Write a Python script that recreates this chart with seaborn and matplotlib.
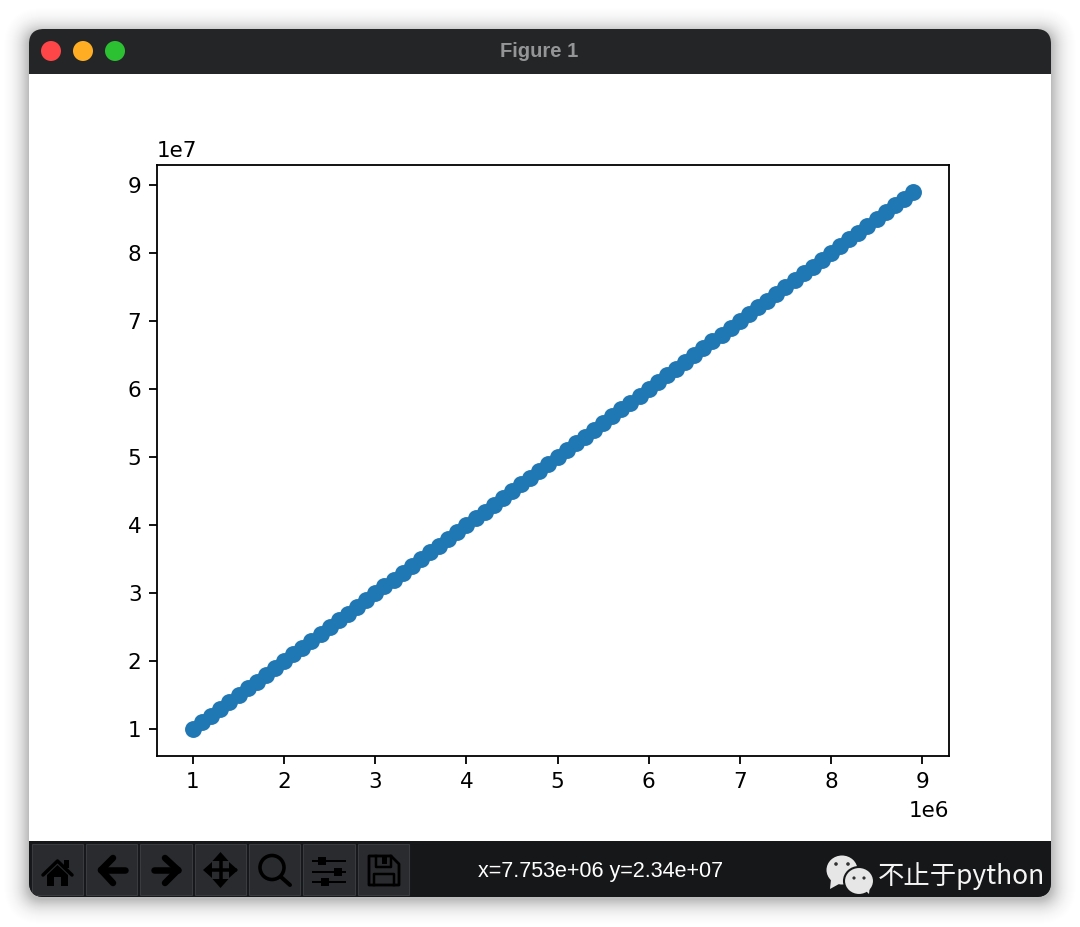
import seaborn as sns
import matplotlib
matplotlib.use('Agg')
import matplotlib.pyplot as plt
from matplotlib.patches import Circle, Ellipse, FancyBboxPatch, Polygon, Rectangle

x_values = [1000000, 1100000, 1200000, 1300000, 1400000, 1500000, 1600000, 1700000,
            1800000, 1900000, 2000000, 2100000, 2200000, 2300000, 2400000, 2500000,
            2600000, 2700000, 2800000, 2900000, 3000000, 3100000, 3200000, 3300000,
            3400000, 3500000, 3600000, 3700000, 3800000, 3900000, 4000000, 4100000,
            4200000, 4300000, 4400000, 4500000, 4600000, 4700000, 4800000, 4900000,
            5000000, 5100000, 5200000, 5300000, 5400000, 5500000, 5600000, 5700000,
            5800000, 5900000, 6000000, 6100000, 6200000, 6300000, 6400000, 6500000,
            6600000, 6700000, 6800000, 6900000, 7000000, 7100000, 7200000, 7300000,
            7400000, 7500000, 7600000, 7700000, 7800000, 7900000, 8000000, 8100000,
            8200000, 8300000, 8400000, 8500000, 8600000, 8700000, 8800000, 8900000]
y_values = [10000000, 11000000, 12000000, 13000000, 14000000, 15000000, 16000000, 17000000,
            18000000, 19000000, 20000000, 21000000, 22000000, 23000000, 24000000, 25000000,
            26000000, 27000000, 28000000, 29000000, 30000000, 31000000, 32000000, 33000000,
            34000000, 35000000, 36000000, 37000000, 38000000, 39000000, 40000000, 41000000,
            42000000, 43000000, 44000000, 45000000, 46000000, 47000000, 48000000, 49000000,
            50000000, 51000000, 52000000, 53000000, 54000000, 55000000, 56000000, 57000000,
            58000000, 59000000, 60000000, 61000000, 62000000, 63000000, 64000000, 65000000,
            66000000, 67000000, 68000000, 69000000, 70000000, 71000000, 72000000, 73000000,
            74000000, 75000000, 76000000, 77000000, 78000000, 79000000, 80000000, 81000000,
            82000000, 83000000, 84000000, 85000000, 86000000, 87000000, 88000000, 89000000]

window_title = 'Figure 1'
status_text = 'x=7.753e+06 y=2.34e+07'
watermark = '不止于python'

TITLE_BAR = '#242527'
TOOL_BAR = '#161719'
PX = 0.72  # one pixel in points at dpi 100

fig = plt.figure(figsize=(10.8, 9.27), dpi=100, facecolor='white')

# window chrome, in pixel coordinates
bg = fig.add_axes([0, 0, 1, 1], zorder=0)
bg.set_xlim(0, 1080)
bg.set_ylim(927, 0)
bg.axis('off')

# soft drop shadow, a little lower than the window
layers = 30
for i in range(layers):
    grow = layers - i
    t = i / layers
    bg.add_patch(FancyBboxPatch((29 - grow, 33 - grow), 1022 + 2 * grow, 866 + 2 * grow,
                                boxstyle='round,pad=0,rounding_size=%d' % (14 + grow),
                                fc='black', ec='none', alpha=0.0015 + 0.024 * t * t))

window = FancyBboxPatch((29, 29), 1022, 868, boxstyle='round,pad=0,rounding_size=15',
                        fc=TITLE_BAR, ec='none')
bg.add_patch(window)
bottom = Rectangle((29, 841), 1022, 56, fc=TOOL_BAR, ec='none')
bg.add_patch(bottom)
bottom.set_clip_path(window)
bg.add_patch(Rectangle((29, 74), 1022, 767, fc='white', ec='none'))

for cx, col in zip([51, 83, 115], ['#fe4548', '#ffae24', '#2bc133']):
    bg.add_patch(Circle((cx, 51), 10, fc=col, ec='none'))
bg.text(539, 51, window_title, color='#949597', fontsize=14.5, fontweight='bold',
        family='Liberation Sans', ha='center', va='center')

# toolbar buttons
for left, right in [(32, 83), (86, 137), (140, 192), (195, 246), (249, 300), (303, 355), (358, 409)]:
    button = Rectangle((left, 844), right - left, 51, fc='#2a2b2e', ec='#3a3b3e', lw=0.8)
    bg.add_patch(button)
    button.set_clip_path(window)

k = 'black'
# home
bg.plot([43, 57.5, 72], [875, 861, 875], color=k, lw=3.5 * PX, solid_capstyle='round')
bg.add_patch(Polygon([(47, 875), (57.5, 865), (68, 875), (68, 886), (61, 886), (61, 877),
                      (54, 877), (54, 886), (47, 886)], fc=k, ec='none'))
bg.add_patch(Rectangle((64, 860), 4.5, 8, fc=k, ec='none'))
# back / forward
for pts in ([(101, 870), (125, 870)], [(101, 870), (113, 858)], [(101, 870), (113, 883)],
            [(178, 870), (154, 870)], [(178, 870), (165, 858)], [(178, 870), (165, 883)]):
    bg.plot(*zip(*pts), color=k, lw=6.5 * PX, solid_capstyle='round')
# pan
bg.plot([207, 235], [870, 870], color=k, lw=3.5 * PX)
bg.plot([220.5, 220.5], [857, 883], color=k, lw=3.5 * PX)
for tri in ([(203, 870), (212, 862), (212, 878)], [(238, 870), (229, 862), (229, 878)],
            [(220.5, 852), (212.5, 861), (228.5, 861)], [(220.5, 888), (212.5, 879), (228.5, 879)]):
    bg.add_patch(Polygon(tri, fc=k, ec='none'))
# zoom
bg.add_patch(Circle((272, 867.5), 12, fc='none', ec=k, lw=3.6 * PX))
bg.plot([281, 290], [877, 885], color=k, lw=4 * PX, solid_capstyle='round')
# sliders
for yy, kx in [(861, 322), (872, 338), (882, 325)]:
    bg.plot([313, 345], [yy, yy], color=k, lw=2 * PX)
    bg.add_patch(Rectangle((kx - 4, yy - 4), 8, 8, fc=k, ec='none'))
# save
bg.add_patch(Polygon([(369, 856), (391, 856), (399, 864), (399, 885), (369, 885)],
                     fc='none', ec=k, lw=2.8 * PX, joinstyle='round'))
bg.plot([376, 376, 391, 391], [856, 867, 867, 856], color=k, lw=2.5 * PX)
bg.add_patch(Rectangle((382, 857), 5, 7, fc=k, ec='none'))
bg.plot([374, 374, 394, 394], [885, 874, 874, 885], color=k, lw=2.5 * PX)

bg.text(601, 871.5, status_text, color='white', fontsize=15.5, family='Liberation Sans',
        ha='center', va='center')

# wechat mark
bubble = '#e6e6e6'
bg.add_patch(Ellipse((842, 870), 31, 29, fc=bubble, ec='none'))
bg.add_patch(Polygon([(831, 879), (830, 889), (839, 884)], fc=bubble, ec='none'))
bg.add_patch(Ellipse((859, 881), 30, 28, fc=bubble, ec=TOOL_BAR, lw=1.5))
bg.add_patch(Polygon([(864, 889), (869, 894), (870, 885)], fc=bubble, ec='none'))
for ex, ey, r in [(836, 864, 1.8), (848, 864, 1.8), (854, 878, 1.6), (864, 878, 1.6)]:
    bg.add_patch(Circle((ex, ey), r, fc='#333333', ec='none'))
bg.text(878, 876, watermark, color='#f4f4f4', fontsize=19,
        family=['Noto Sans CJK SC', 'DejaVu Sans'], ha='left', va='center')

# the chart itself
ax = fig.add_axes([157 / 1080, 1 - 756 / 927, 792 / 1080, 591 / 927], zorder=1)
sns.scatterplot(x=x_values, y=y_values, ax=ax, s=148, color='#1f77b4', linewidth=0)
ax.tick_params(labelsize=15.5, length=5.6, width=1.3, pad=5.6)
ax.xaxis.get_offset_text().set_fontsize(15.5)
ax.yaxis.get_offset_text().set_fontsize(15.5)
ax.xaxis.OFFSETTEXTPAD = 7
ax.yaxis.OFFSETTEXTPAD = 5.5
for spine in ax.spines.values():
    spine.set_linewidth(1.3)

fig.savefig('out.png', dpi=100)
